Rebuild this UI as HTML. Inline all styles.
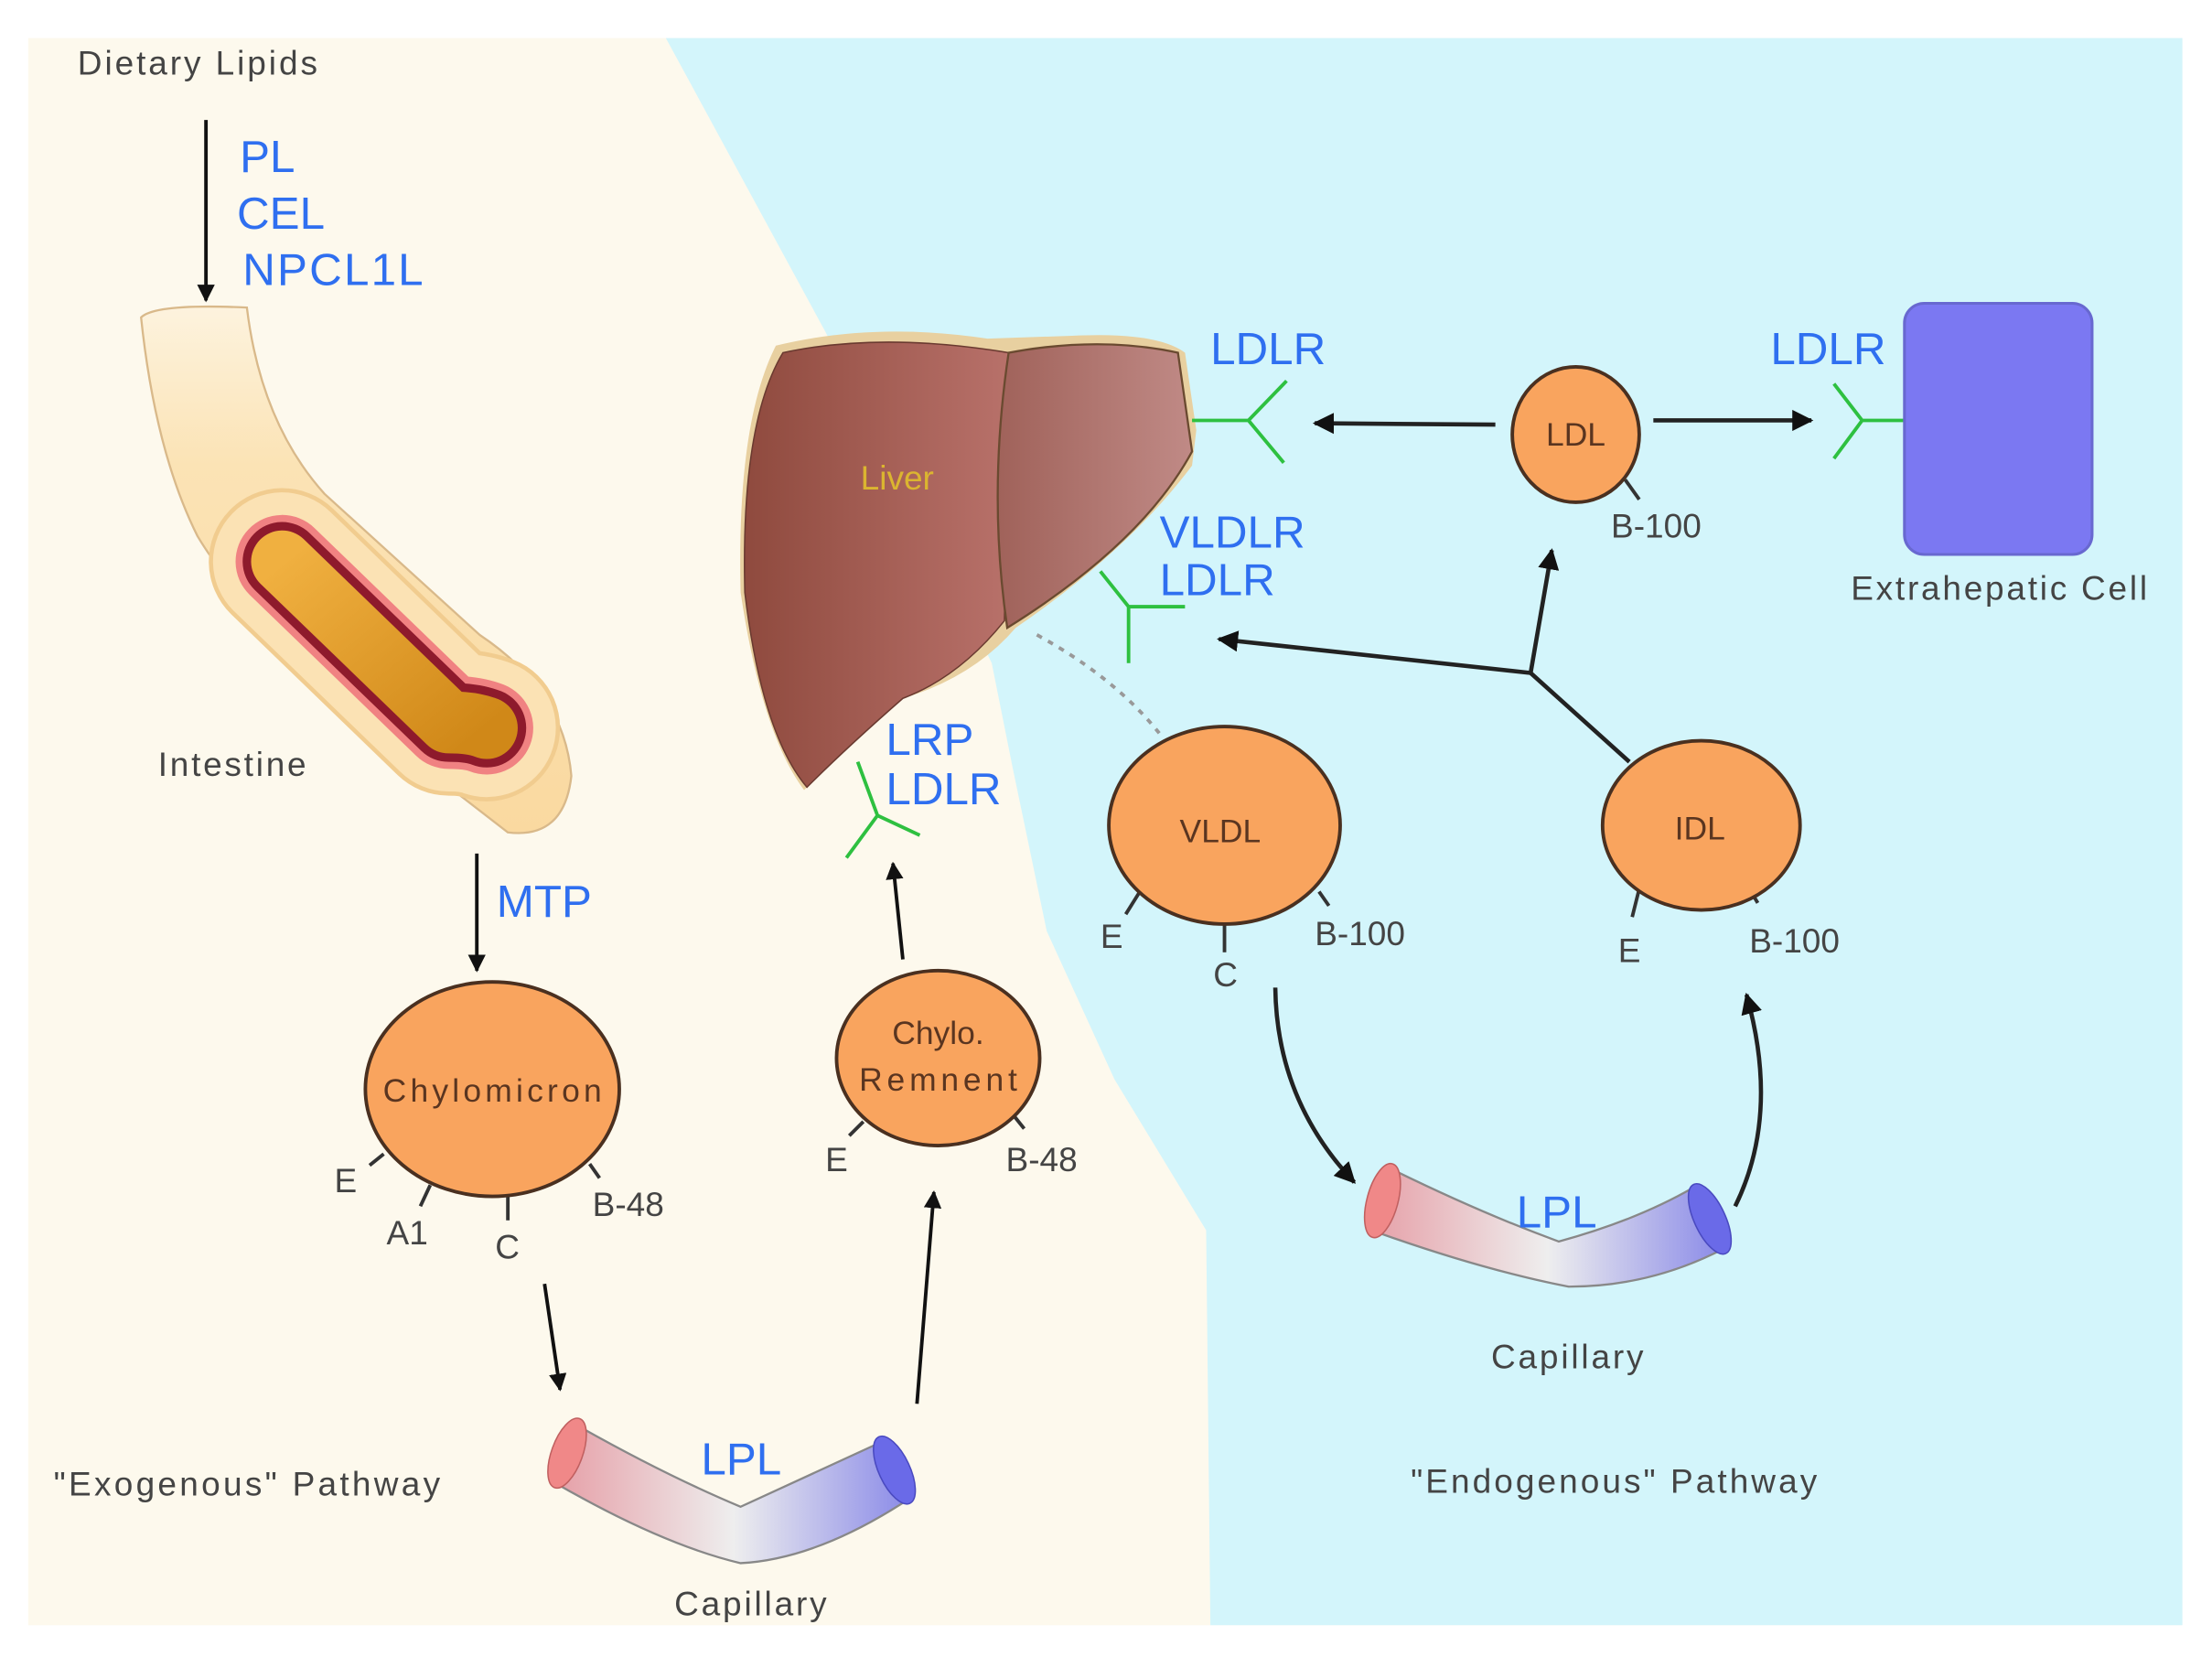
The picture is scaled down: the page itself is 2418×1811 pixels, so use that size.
<!DOCTYPE html>
<html><head><meta charset="utf-8"><style>
html,body{margin:0;padding:0;background:#fff;}
svg{display:block;}
text{font-family:"Liberation Sans",Arial,sans-serif;}
.g{fill:#444;font-size:24px;}
.b{fill:#2f6ff0;font-size:32px;}
.d{fill:#5a3520;font-size:23px;}
</style></head><body>
<svg width="2418" height="1811" viewBox="0 0 1568 1174.5" preserveAspectRatio="none" xmlns="http://www.w3.org/2000/svg">
<defs>
<linearGradient id="liv" x1="0" x2="1"><stop offset="0" stop-color="#8f4a3e"/><stop offset="1" stop-color="#b8716a"/></linearGradient>
<linearGradient id="liv2" x1="0" x2="1"><stop offset="0" stop-color="#a0625a"/><stop offset="1" stop-color="#c08a86"/></linearGradient>
<linearGradient id="cap" x1="0" x2="1"><stop offset="0" stop-color="#e6a0a8"/><stop offset="0.5" stop-color="#eeeeee"/><stop offset="1" stop-color="#8a8ae8"/></linearGradient>
<linearGradient id="orng" x1="0" y1="0" x2="1" y2="1"><stop offset="0" stop-color="#f0b040"/><stop offset="1" stop-color="#d08818"/></linearGradient>
<linearGradient id="int" x1="0" y1="0" x2="0" y2="1"><stop offset="0" stop-color="#fdf3de"/><stop offset="0.3" stop-color="#fbe3b5"/><stop offset="1" stop-color="#fad9a0"/></linearGradient>
<marker id="ah" viewBox="0 0 10 10" refX="9" refY="5" markerWidth="5" markerHeight="5" orient="auto"><path d="M0,0 L10,5 L0,10 z" fill="#111"/></marker>
</defs>
<rect x="0" y="0" width="1568" height="1175" fill="#fff"/>
<rect x="20" y="27" width="1527" height="1125" fill="#fdf9ed"/>
<polygon points="472,27 1547,27 1547,1152 858,1152 855,872 790,765 742,660 718,545 703,470 650,360 585,235" fill="#d3f5fb"/>

<text x="55" y="53" class="g" textLength="170">Dietary Lipids</text>
<line x1="146" y1="85" x2="146" y2="213" stroke="#111" stroke-width="2.5" marker-end="url(#ah)"/>
<text x="170" y="122" class="b">PL</text>
<text x="168" y="162" class="b">CEL</text>
<text x="172" y="202" class="b" textLength="128">NPCL1L</text>

<path d="M100,225 Q110,215 175,218 Q185,300 230,350 L340,450 Q400,490 405,550 Q400,595 360,590 L250,505 Q170,430 140,380 Q110,320 100,225 z" fill="url(#int)" stroke="#d9b98a" stroke-width="1.5"/>
<path d="M200,398 L318,512 Q335,512 345,516" stroke="#f1cc8f" stroke-width="104" fill="none" stroke-linecap="round" stroke-linejoin="round"/>
<path d="M200,398 L318,512 Q335,512 345,516" stroke="#fbe2b4" stroke-width="98" fill="none" stroke-linecap="round" stroke-linejoin="round"/>
<path d="M200,398 L318,512 Q335,512 345,516" stroke="#f08282" stroke-width="66" fill="none" stroke-linecap="round" stroke-linejoin="round"/>
<path d="M200,398 L318,512 Q335,512 345,516" stroke="#8e1a2c" stroke-width="56" fill="none" stroke-linecap="round" stroke-linejoin="round"/>
<path d="M200,398 L318,512 Q335,512 345,516" stroke="url(#orng)" stroke-width="44" fill="none" stroke-linecap="round" stroke-linejoin="round"/>
<text x="112" y="550" class="g" textLength="105">Intestine</text>

<line x1="338" y1="605" x2="338" y2="688" stroke="#111" stroke-width="2.5" marker-end="url(#ah)"/>
<text x="352" y="650" class="b">MTP</text>

<g stroke="#333" stroke-width="2.5">
<line x1="272" y1="818" x2="262" y2="826"/><line x1="305" y1="840" x2="298" y2="855"/><line x1="360" y1="848" x2="360" y2="865"/><line x1="418" y1="825" x2="425" y2="835"/>
</g>
<ellipse cx="349" cy="772" rx="90" ry="76" fill="#f9a45e" stroke="#4a3020" stroke-width="2.5"/>
<text x="349" y="781" class="d" text-anchor="middle" textLength="155">Chylomicron</text>
<text x="237" y="845" class="g">E</text>
<text x="274" y="882" class="g">A1</text>
<text x="351" y="892" class="g">C</text>
<text x="420" y="862" class="g">B-48</text>
<line x1="386" y1="910" x2="397" y2="985" stroke="#111" stroke-width="2.5" marker-end="url(#ah)"/>

<path d="M405,1008 Q470,1045 525,1068 Q575,1045 625,1022 L645,1062 Q580,1105 525,1108 Q470,1095 395,1052 z" fill="url(#cap)" stroke="#888" stroke-width="1.5"/>
<ellipse cx="402" cy="1030" rx="11" ry="26" transform="rotate(20 402 1030)" fill="#f08888" stroke="#c06060"/>
<ellipse cx="634" cy="1042" rx="11" ry="26" transform="rotate(-25 634 1042)" fill="#6a6ae8" stroke="#4a4ac0"/>
<text x="497" y="1045" class="b">LPL</text>
<text x="478" y="1145" class="g" textLength="108">Capillary</text>
<text x="38" y="1060" class="g" textLength="274">"Exogenous" Pathway</text>

<line x1="650" y1="995" x2="662" y2="845" stroke="#111" stroke-width="2.5" marker-end="url(#ah)"/>
<g stroke="#333" stroke-width="2.5"><line x1="612" y1="795" x2="602" y2="805"/><line x1="718" y1="790" x2="726" y2="800"/></g>
<ellipse cx="665" cy="750" rx="72" ry="62" fill="#f9a45e" stroke="#4a3020" stroke-width="2.5"/>
<text x="665" y="740" class="d" text-anchor="middle">Chylo.</text>
<text x="665" y="773" class="d" text-anchor="middle" textLength="112">Remnent</text>
<text x="585" y="830" class="g">E</text>
<text x="713" y="830" class="g">B-48</text>
<line x1="640" y1="680" x2="633" y2="612" stroke="#111" stroke-width="2.5" marker-end="url(#ah)"/>

<g stroke="#2ec040" stroke-width="2.5" fill="none"><path d="M608,540 L622,578 L600,608 M622,578 L652,592"/></g>
<text x="628" y="535" class="b">LRP</text>
<text x="628" y="570" class="b">LDLR</text>

<path d="M550,245 Q620,228 700,240 L760,238 Q820,235 840,250 L848,305 L845,330 Q800,390 720,445 Q690,480 640,495 Q600,530 570,560 Q540,520 525,420 Q522,300 550,245 z" fill="#e8d0a0"/>
<path d="M555,250 Q625,235 715,250 L712,440 Q680,480 640,495 Q600,530 572,558 Q540,520 528,420 Q525,300 555,250 z" fill="url(#liv)" stroke="#6a3a30" stroke-width="1"/>
<path d="M715,250 Q780,238 835,250 L845,320 Q810,385 714,445 Q700,350 715,250 z" fill="url(#liv2)" stroke="#6a4a30" stroke-width="1.5"/>
<text x="610" y="347" fill="#dbb530" font-size="24">Liver</text>

<g stroke="#2ec040" stroke-width="2.5" fill="none"><path d="M845,298 L885,298 L912,270 M885,298 L910,328"/></g>
<text x="858" y="258" class="b">LDLR</text>
<line x1="1060" y1="301" x2="932" y2="300" stroke="#222" stroke-width="3" marker-end="url(#ah)"/>

<line x1="1152" y1="340" x2="1162" y2="354" stroke="#333" stroke-width="2.5"/>
<ellipse cx="1117" cy="308" rx="45" ry="48" fill="#f9a45e" stroke="#4a3020" stroke-width="2.5"/>
<text x="1117" y="316" class="d" text-anchor="middle">LDL</text>
<text x="1142" y="381" class="g">B-100</text>
<line x1="1172" y1="298" x2="1284" y2="298" stroke="#222" stroke-width="3" marker-end="url(#ah)"/>

<g stroke="#2ec040" stroke-width="2.5" fill="none"><path d="M1350,298 L1320,298 L1300,272 M1320,298 L1300,325"/></g>
<text x="1255" y="258" class="b">LDLR</text>
<rect x="1350" y="215" width="133" height="178" rx="14" fill="#7b78f2" stroke="#6868d0" stroke-width="2"/>
<text x="1312" y="425" class="g" textLength="210">Extrahepatic Cell</text>

<text x="822" y="388" class="b">VLDLR</text>
<text x="822" y="422" class="b">LDLR</text>
<g stroke="#2ec040" stroke-width="2.5" fill="none"><path d="M780,405 L800,430 L840,430 M800,430 L800,470"/></g>
<path d="M735,450 Q790,480 822,520" stroke="#999" stroke-width="2.5" stroke-dasharray="4,5" fill="none"/>

<g stroke="#222" stroke-width="3" fill="none">
<line x1="1155" y1="540" x2="1085" y2="477"/>
<line x1="1085" y1="477" x2="1100" y2="390" marker-end="url(#ah)"/>
<line x1="1085" y1="477" x2="864" y2="453" marker-end="url(#ah)"/>
</g>

<g stroke="#333" stroke-width="2.5"><line x1="808" y1="632" x2="798" y2="648"/><line x1="868" y1="655" x2="868" y2="675"/><line x1="935" y1="632" x2="942" y2="642"/></g>
<ellipse cx="868" cy="585" rx="82" ry="70" fill="#f9a45e" stroke="#4a3020" stroke-width="2.5"/>
<text x="865" y="597" class="d" text-anchor="middle">VLDL</text>
<text x="780" y="672" class="g">E</text>
<text x="860" y="699" class="g">C</text>
<text x="932" y="670" class="g">B-100</text>

<g stroke="#333" stroke-width="2.5"><line x1="1162" y1="630" x2="1157" y2="650"/><line x1="1240" y1="630" x2="1246" y2="640"/></g>
<ellipse cx="1206" cy="585" rx="70" ry="60" fill="#f9a45e" stroke="#4a3020" stroke-width="2.5"/>
<text x="1205" y="595" class="d" text-anchor="middle">IDL</text>
<text x="1147" y="682" class="g">E</text>
<text x="1240" y="675" class="g">B-100</text>

<path d="M904,700 Q905,780 960,838" stroke="#222" stroke-width="3" fill="none" marker-end="url(#ah)"/>
<path d="M1230,855 Q1262,790 1238,705" stroke="#222" stroke-width="3" fill="none" marker-end="url(#ah)"/>

<path d="M985,828 Q1050,860 1105,880 Q1160,865 1200,842 L1222,885 Q1170,912 1112,912 Q1050,900 972,872 z" fill="url(#cap)" stroke="#888" stroke-width="1.5"/>
<ellipse cx="980" cy="851" rx="11" ry="27" transform="rotate(15 980 851)" fill="#f08888" stroke="#c06060"/>
<ellipse cx="1212" cy="864" rx="11" ry="27" transform="rotate(-25 1212 864)" fill="#6a6ae8" stroke="#4a4ac0"/>
<text x="1075" y="870" class="b">LPL</text>
<text x="1057" y="970" class="g" textLength="108">Capillary</text>
<text x="1000" y="1058" class="g" textLength="288">"Endogenous" Pathway</text>
</svg>
</body></html>
